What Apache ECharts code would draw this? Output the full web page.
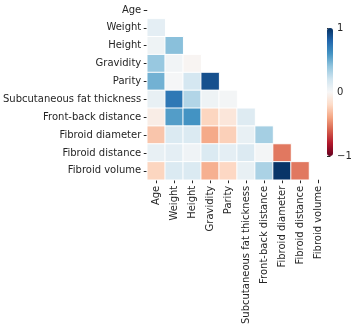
<!DOCTYPE html>
<html>
<head>
<meta charset="utf-8">
<script src="https://cdn.jsdelivr.net/npm/echarts@6/dist/echarts.min.js"></script>
<style>
  html, body { margin: 0; padding: 0; background: #fff; }
  #chart { width: 355px; height: 327px; }
</style>
</head>
<body>
<div id="chart"></div>
<script>
// variable names, top to bottom / left to right
var names = ['Age', 'Weight', 'Height', 'Gravidity', 'Parity',
    'Subcutaneous fat thickness', 'Front-back distance', 'Fibroid diameter',
    'Fibroid distance', 'Fibroid volume'];

// lower triangle of the correlation matrix, row i holds columns 0..i-1
var corrRows = [
    [],
    [0.10],
    [0.05, 0.42],
    [0.38, 0.03, -0.02],
    [0.48, 0.01, 0.18, 0.88],
    [0.08, 0.72, 0.30, 0.05, 0.02],
    [-0.07, 0.56, 0.60, -0.22, -0.12, 0.13],
    [-0.28, 0.15, 0.15, -0.38, -0.24, 0.08, 0.34],
    [0.08, 0.10, 0.04, 0.15, 0.10, 0.14, 0.02, -0.53],
    [-0.22, 0.15, 0.15, -0.36, -0.21, 0.08, 0.32, 0.98, -0.53]
];

var colorTicks = [-1, 0, 1];
var rdbu = ['#67001f', '#b2182b', '#d6604d', '#f4a582', '#fddbc7', '#f7f7f7',
    '#d1e5f0', '#92c5de', '#4393c3', '#2166ac', '#053061'];

var chart = echarts.init(document.getElementById('chart'));

var cells = [];
for (var i = 0; i < corrRows.length; i++) {
    for (var j = 0; j < corrRows[i].length; j++) {
        cells.push([j, i, corrRows[i][j]]);
    }
}

var txt = '#262626';
var fnt = 'DejaVu Sans';

var option = {
    animation: false,
    grid: [
        { left: 142, top: 1, width: 185, height: 185 },
        { left: 327, top: 28, width: 6, height: 128 }
    ],
    xAxis: [{
        type: 'category',
        gridIndex: 0,
        data: names,
        axisLine: { show: false },
        axisTick: { show: true, length: 3.5, alignWithLabel: true, lineStyle: { color: txt } },
        axisLabel: { rotate: 90, interval: 0, color: txt, fontSize: 10, fontFamily: fnt, margin: 6 },
        splitLine: { show: false }
    }, {
        type: 'value',
        gridIndex: 1,
        show: false
    }],
    yAxis: [{
        type: 'category',
        gridIndex: 0,
        inverse: true,
        data: names,
        axisLine: { show: false },
        axisTick: { show: true, length: 3.5, alignWithLabel: true, lineStyle: { color: txt } },
        axisLabel: { interval: 0, color: txt, fontSize: 10, fontFamily: fnt, margin: 6 },
        splitLine: { show: false }
    }, {
        type: 'value',
        gridIndex: 1,
        position: 'right',
        min: -1,
        max: 1,
        interval: 1,
        data: colorTicks,
        axisLine: { show: false },
        axisTick: { show: true, length: 3.5, lineStyle: { color: txt } },
        axisLabel: {
            color: txt, fontSize: 10, fontFamily: fnt, margin: 4,
            formatter: function (v) { return v < 0 ? '\u2212' + Math.abs(v) : String(v); }
        },
        splitLine: { show: false }
    }],
    visualMap: {
        type: 'continuous',
        min: -1,
        max: 1,
        seriesIndex: 0,
        orient: 'vertical',
        left: 327,
        top: 28,
        padding: 0,
        itemWidth: 6,
        itemHeight: 128,
        calculable: false,
        hoverLink: false,
        text: null,
        showLabel: false,
        inRange: { color: rdbu }
    },
    series: [{
        type: 'heatmap',
        xAxisIndex: 0,
        yAxisIndex: 0,
        data: cells,
        itemStyle: { borderColor: '#fff', borderWidth: 1 },
        emphasis: { disabled: true }
    }]
};

chart.setOption(option);
</script>
</body>
</html>
